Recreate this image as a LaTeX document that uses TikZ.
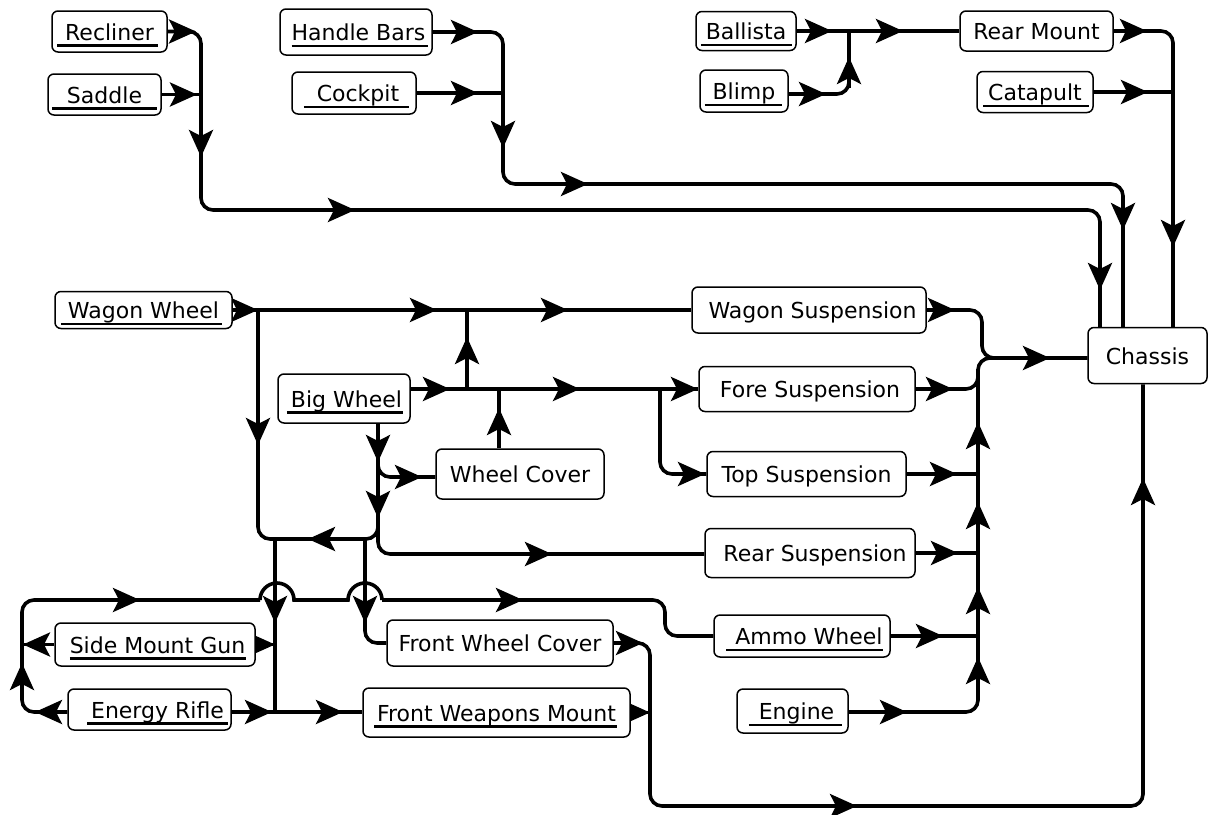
\documentclass[tikz,border=0pt]{standalone}
\usepackage{fontspec}
\setmainfont{DejaVu Sans}
\usetikzlibrary{arrows.meta,backgrounds,calc}
\newcommand{\ulx}[3]{\setbox0=\hbox{#3}\rlap{\kern-#1pt\raisebox{-6.5pt}{\rule{\dimexpr\wd0+#1pt+#2pt\relax}{2.5pt}}}\box0}
\tikzset{
  box/.style={draw, line width=1.5pt, rounded corners=6pt, fill=white, inner sep=0pt,
    text height=17.5pt, text depth=0.5pt, font=\fontsize{22}{26}\selectfont},
  bx/.style 2 args={box, minimum width=#1pt, minimum height=#2pt},
  conn/.style={line width=3.6pt, rounded corners=12pt},
  tipst/.style={line width=3.6pt, -{Stealth[length=27pt,width=24pt,inset=6pt]}}
}
\newcommand{\ah}[3]{\draw[tipst] ($(#1,#2)+(#3:-31)$) -- (#1,#2);}
\begin{document}
\begin{tikzpicture}[x=1pt,y=-1pt]
\useasboundingbox (0,0) rectangle (1209,814);
% nodes
\node[bx={115}{41}] (Recliner) at (109.5,31.5) {\ulx{8}{4}{Recliner}};
\node[bx={113}{41}] (Saddle) at (104.5,94.5) {\ulx{15}{15}{Saddle}};
\node[bx={152}{46}] (HandleBars) at (356,32) {\hspace*{5pt}\ulx{0}{3}{Handle Bars}};
\node[bx={124}{42}] (Cockpit) at (354,93) {\hspace*{8pt}\ulx{13}{10}{Cockpit}};
\node[bx={100}{39}] (Ballista) at (746,31) {\ulx{5}{6}{Ballista}};
\node[bx={88}{42}] (Blimp) at (744,91) {\ulx{8}{7}{Blimp}};
\node[bx={153}{40}] (RearMount) at (1036.5,31) {Rear Mount};
\node[bx={116}{41}] (Catapult) at (1035,92) {\ulx{5}{7}{Catapult}};
\node[bx={119}{56}] (Chassis) at (1147.5,355.5) {Chassis};
\node[bx={177}{37}] (WagonWheel) at (143.5,310) {\ulx{7}{3}{Wagon Wheel}};
\node[bx={132}{49}] (BigWheel) at (344,398.5) {\hspace*{5pt}\ulx{4}{1}{Big Wheel}};
\node[bx={168}{50}] (WheelCover) at (520,474) {Wheel Cover};
\node[bx={234}{46}] (WagonSusp) at (809,310) {\hspace*{7pt}Wagon Suspension};
\node[bx={216}{45}] (ForeSusp) at (807,389) {\hspace*{6pt}Fore Suspension};
\node[bx={199}{45}] (TopSusp) at (806.5,474) {Top Suspension};
\node[bx={210}{49}] (RearSusp) at (810,553) {\hspace*{10pt}Rear Suspension};
\node[bx={176}{42}] (AmmoWheel) at (802,636) {\hspace*{14pt}\ulx{9}{0}{Ammo Wheel}};
\node[bx={111}{44}] (Engine) at (792.5,711) {\hspace*{8pt}\ulx{10}{8}{Engine}};
\node[bx={226}{46}] (FrontWheelCover) at (500,643) {Front Wheel Cover};
\node[bx={267}{49}] (FrontWeaponsMount) at (496.5,712.5) {\ulx{3}{1}{Front Weapons Mount}};
\node[bx={200}{43}] (SideMountGun) at (155,644.5) {\hspace*{5pt}\ulx{0}{1}{Side Mount Gun}};
\node[bx={163}{41}] (EnergyRifle) at (149.5,709.5) {\hspace*{16pt}\ulx{4}{4}{Energy Rifle}};
% junction coordinates
\coordinate (jRtop) at (201,31.5);
\coordinate (jS) at (201,94.5);
\coordinate (jRbot) at (201,210);
\coordinate (jRr) at (1100,210);
\coordinate (jHtop) at (503,32);
\coordinate (jCk) at (503,93);
\coordinate (jHbot) at (503,184);
\coordinate (jHr) at (1123,184);
\coordinate (jBl) at (849,31);
\coordinate (jBb) at (849,94);
\coordinate (jRM) at (1173,31);
\coordinate (jCat) at (1173,92);
\coordinate (jW) at (258,310);
\coordinate (jWb) at (258,539);
\coordinate (j275) at (275,539);
\coordinate (j365) at (365,539);
\coordinate (j378) at (378,539);
\coordinate (jWC) at (378,477);
\coordinate (jRS) at (378,554);
\coordinate (j467b) at (467,389);
\coordinate (j467t) at (467,310);
\coordinate (j499) at (499,389);
\coordinate (jT1) at (660,389);
\coordinate (jT2) at (660,474);
\coordinate (jWS) at (982,310);
\coordinate (jWS2) at (982,358);
\coordinate (jE) at (978,712);
\coordinate (jBus) at (978,358);
\coordinate (jF1) at (650,643);
\coordinate (jF2) at (650,806);
\coordinate (jF3) at (1143,806);
\coordinate (jV1) at (275,712);
\coordinate (jV2) at (365,643);
\coordinate (jL1) at (22,712);
\coordinate (jL2) at (22,600);
\coordinate (jH1) at (260,600);
\coordinate (jH3) at (348,600);
\coordinate (jH4) at (382,600);
\coordinate (jA1) at (665,600);
\coordinate (jA2) at (665,636);
\begin{pgfonlayer}{background}
% top left
\draw[conn] (Recliner.east) -- (jRtop) -- (jRbot) -- (jRr) -- (jRr |- Chassis.north);
\draw[conn] (Saddle.east) -- (jS);
\draw[conn] (HandleBars.east) -- (jHtop) -- (jHbot) -- (jHr) -- (jHr |- Chassis.north);
\draw[conn] (Cockpit.east) -- (jCk);
% top right
\draw[conn] (Ballista.east) -- (RearMount.west);
\draw[conn] (Blimp.east |- jBb) -- (jBb) -- (jBl);
\draw[conn] (RearMount.east) -- (jRM) -- (jRM |- Chassis.north);
\draw[conn] (Catapult.east) -- (jCat);
% middle
\draw[conn] (WagonWheel.east) -- (WagonSusp.west);
\draw[conn] (j467b) -- (j467t);
\draw[conn] (jW) -- (jWb) -- (j365);
\draw[conn] (BigWheel.south -| j378) -- (j378) -- (j275);
\draw[conn] (BigWheel.south -| j378) -- (jWC) -- (WheelCover.west |- jWC);
\draw[conn] (BigWheel.south -| j378) -- (jRS) -- (RearSusp.west |- jRS);
\draw[conn] (BigWheel.east |- ForeSusp.west) -- (ForeSusp.west);
\draw[conn] (WheelCover.north -| j499) -- (j499);
\draw[conn] (jT1) -- (jT2) -- (TopSusp.west);
% right bus
\draw[conn] (WagonSusp.east) -- (jWS) -- (jWS2) -- (Chassis.west |- jWS2);
\draw[conn] (Engine.east |- jE) -- (jE) -- (jBus) -- (Chassis.west |- jBus);
\draw[conn] (ForeSusp.east) -- (ForeSusp.east -| jE) -- ++(0,-20);
\draw[conn] (TopSusp.east) -- (TopSusp.east -| jE);
\draw[conn] (RearSusp.east) -- (RearSusp.east -| jE);
\draw[conn] (AmmoWheel.east) -- (AmmoWheel.east -| jE);
% bottom
\draw[conn] (FrontWheelCover.east) -- (jF1) -- (jF2) -- (jF3) -- (jF3 |- Chassis.south);
\draw[conn] (FrontWeaponsMount.east) -- (FrontWeaponsMount.east -| jF1);
\draw[conn, sharp corners] (j275) -- (jV1) -- (FrontWeaponsMount.west |- jV1);
\draw[conn] (EnergyRifle.east |- jV1) -- (jV1);
\draw[conn] (SideMountGun.east) -- (SideMountGun.east -| jV1);
\draw[conn] (j365) -- (jV2) -- (FrontWheelCover.west);
% left loop with hops
\draw[conn] (EnergyRifle.west |- jL1) -- (jL1) -- (jL2) -- (jH1);
\draw[conn, sharp corners] (jH1) arc[start angle=180, end angle=360, radius=17] -- (jH3) arc[start angle=180, end angle=360, radius=17];
\draw[conn] (jH4) -- (jA1) -- (jA2) -- (AmmoWheel.west);
\draw[conn] (SideMountGun.west) -- (SideMountGun.west -| jL1);
% arrowheads
\ah{196}{31.5}{0}
\ah{197}{94.5}{0}
\ah{201}{157}{90}
\ah{355}{210}{0}
\ah{1100}{290}{90}
\ah{478}{32}{0}
\ah{478}{93}{0}
\ah{503}{148}{90}
\ah{588}{184}{0}
\ah{1123}{230}{90}
\ah{832}{31}{0}
\ah{903}{31}{0}
\ah{826}{94}{0}
\ah{849}{57}{270}
\ah{1147}{31}{0}
\ah{1148}{92}{0}
\ah{1173}{247}{90}
\ah{258}{310}{0}
\ah{437}{310}{0}
\ah{568}{310}{0}
\ah{467}{337}{270}
\ah{450}{389}{0}
\ah{580}{389}{0}
\ah{698}{389}{0}
\ah{499}{408}{270}
\ah{705}{474}{0}
\ah{258}{445}{90}
\ah{378}{462}{90}
\ah{422}{477}{0}
\ah{378}{518}{90}
\ah{308}{539}{180}
\ah{552}{554}{0}
\ah{955}{310}{0}
\ah{1050}{358}{0}
\ah{953}{389}{0}
\ah{957}{474}{0}
\ah{958}{553}{0}
\ah{943}{636}{0}
\ah{907}{712}{0}
\ah{978}{657}{270}
\ah{978}{587}{270}
\ah{978}{502}{270}
\ah{978}{422}{270}
\ah{643}{643}{0}
\ah{650}{712.5}{0}
\ah{857}{806}{0}
\ah{1143}{478}{270}
\ah{275}{623}{90}
\ah{365}{623}{90}
\ah{343}{712}{0}
\ah{272}{712}{0}
\ah{275}{644.5}{0}
\ah{23}{644.5}{180}
\ah{35}{712}{180}
\ah{22}{663}{270}
\ah{140}{600}{0}
\ah{523}{600}{0}
\end{pgfonlayer}
\end{tikzpicture}
\end{document}
